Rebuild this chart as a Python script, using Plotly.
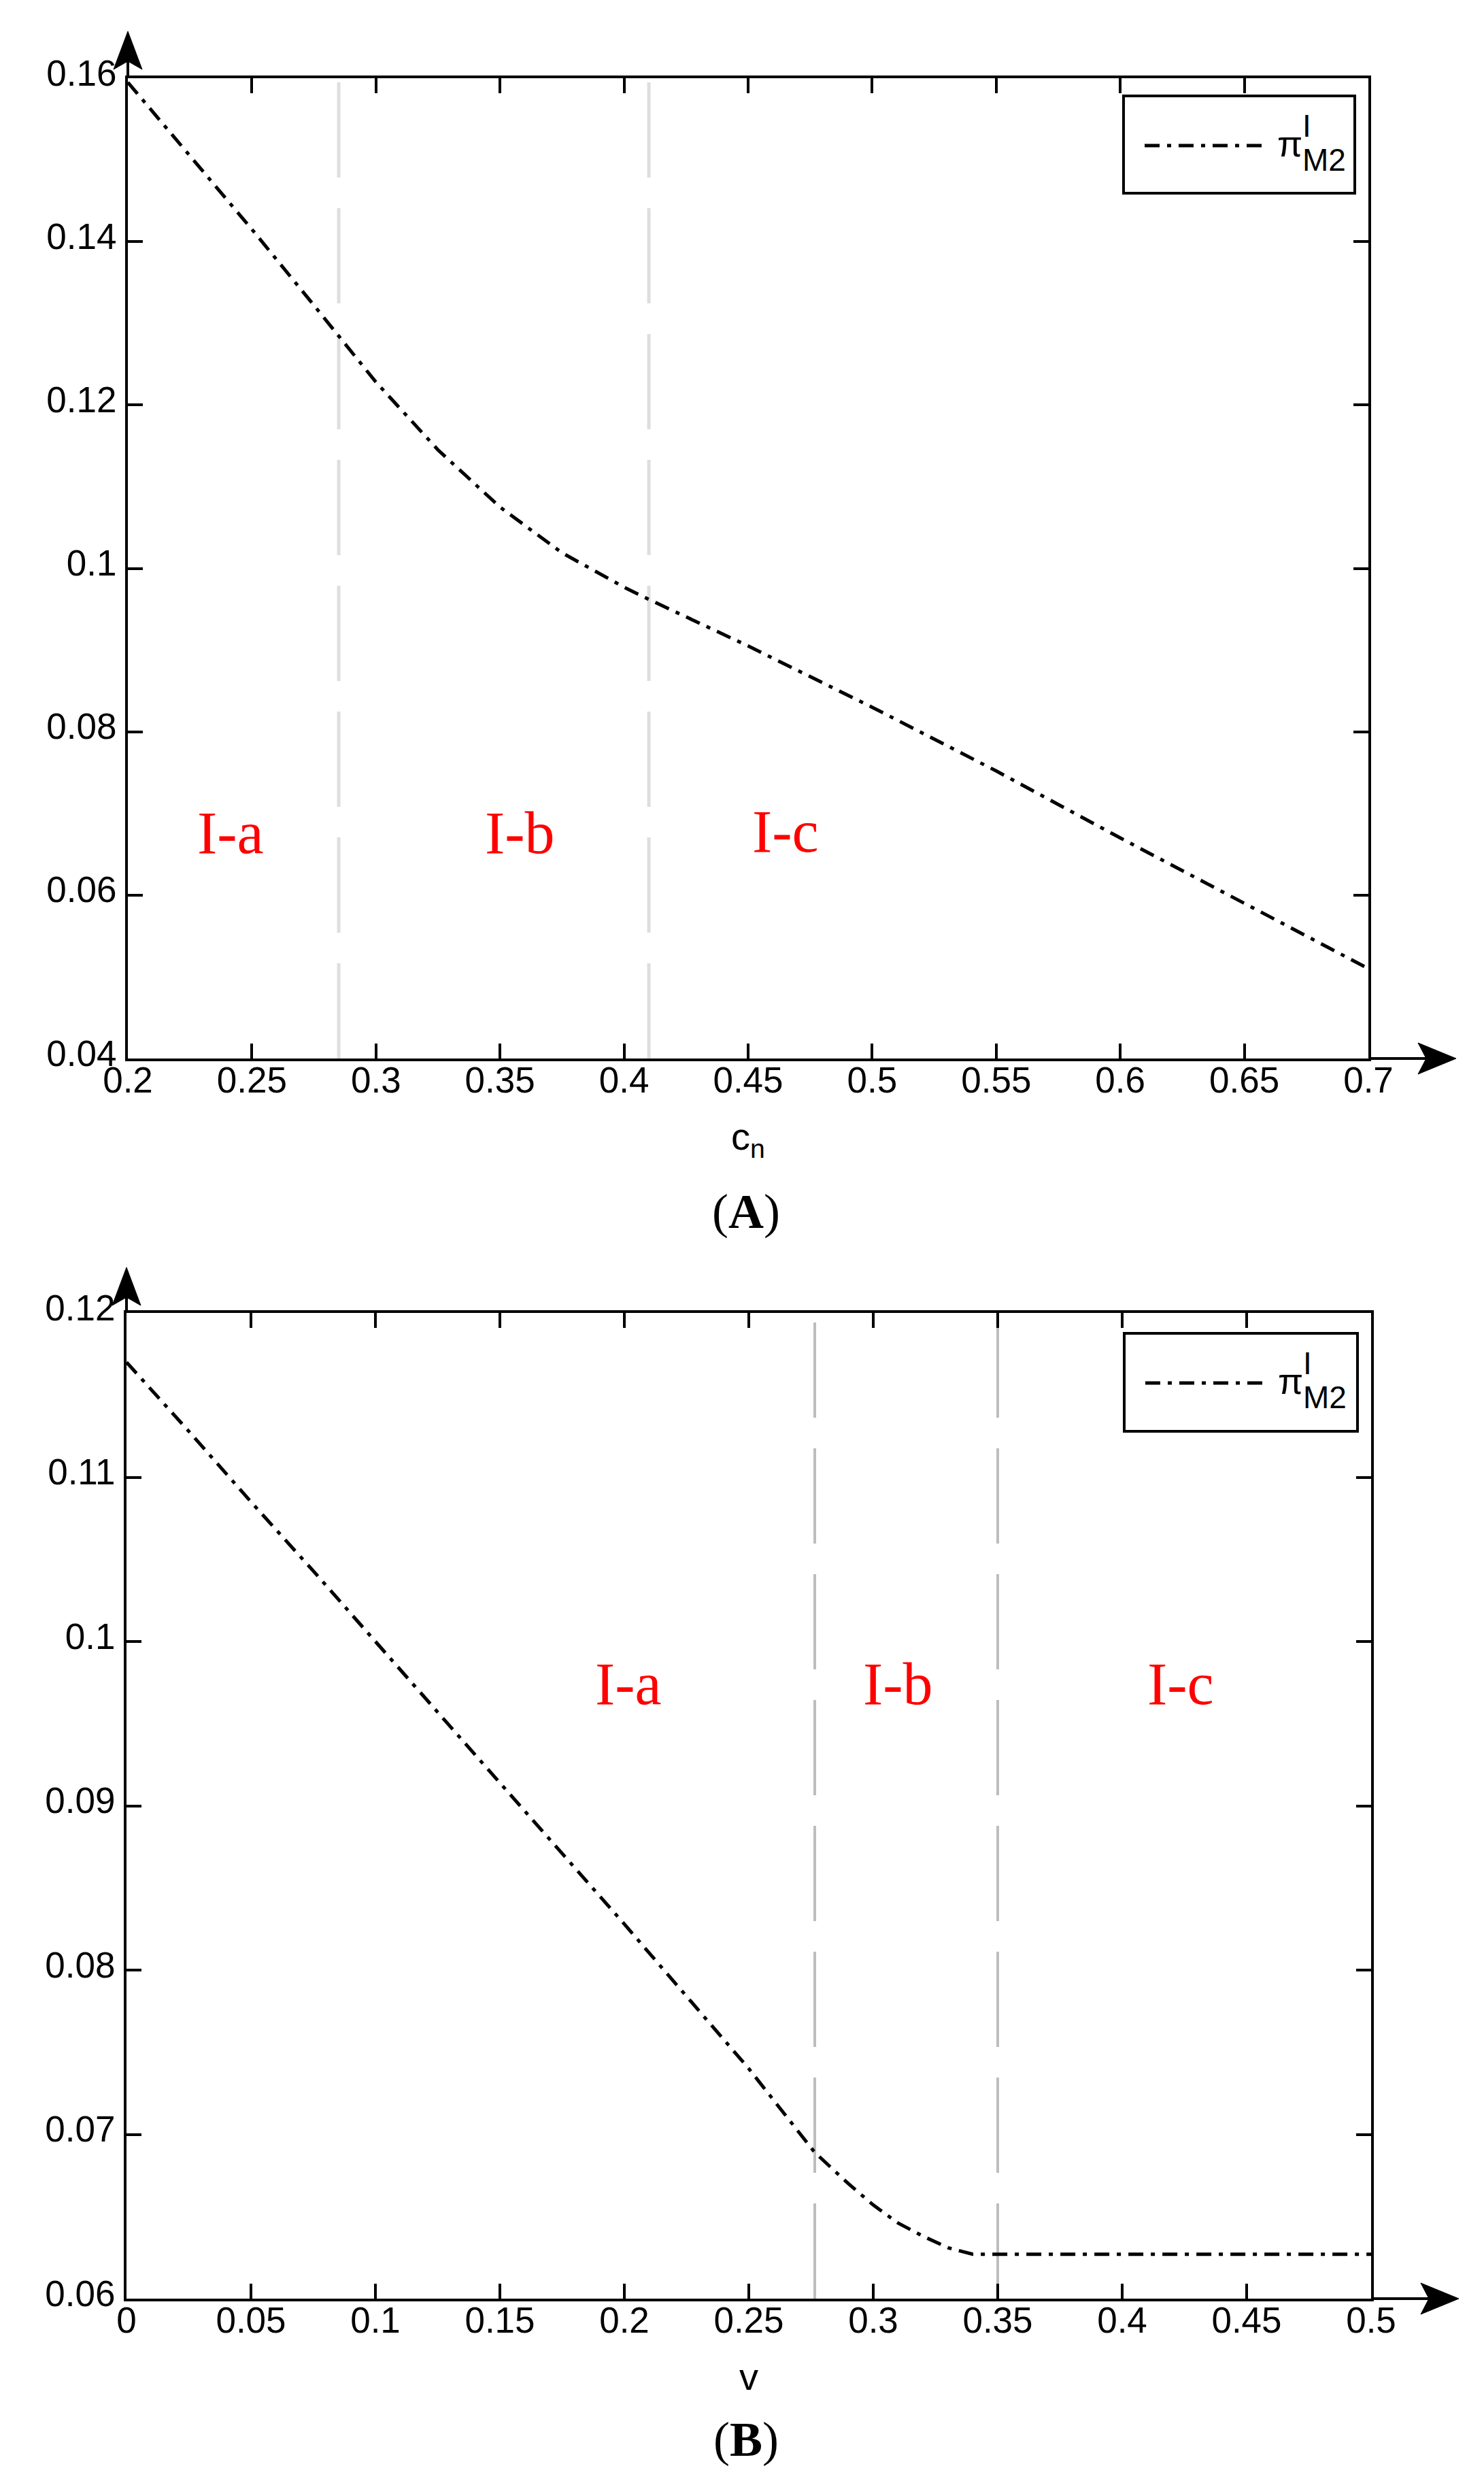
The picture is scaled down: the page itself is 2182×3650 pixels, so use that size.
import plotly.graph_objects as go

W, H = 2182, 3650

# ---------------- data ----------------
# Panel A : profit pi^I_M2 versus c_n
a_x = [0.2, 0.225, 0.25, 0.275, 0.285, 0.3, 0.325, 0.35, 0.375, 0.4, 0.41,
       0.45, 0.5, 0.55, 0.6, 0.65, 0.7]
a_y = [0.1595, 0.1505, 0.1415, 0.1322, 0.1285, 0.1228, 0.1145, 0.1075, 0.1019,
       0.0977, 0.0962, 0.0905, 0.0830, 0.0752, 0.0670, 0.0590, 0.0510]
a_bounds = [0.285, 0.41]
a_regions = ["I-a", "I-b", "I-c"]
a_region_x = [0.2414, 0.358, 0.465]
a_region_y = [0.0676, 0.0676, 0.0678]
a_xticks = [0.2, 0.25, 0.3, 0.35, 0.4, 0.45, 0.5, 0.55, 0.6, 0.65, 0.7]
a_xticktext = ["0.2", "0.25", "0.3", "0.35", "0.4", "0.45", "0.5", "0.55", "0.6", "0.65", "0.7"]
a_yticks = [0.04, 0.06, 0.08, 0.1, 0.12, 0.14, 0.16]
a_yticktext = ["0.04", "0.06", "0.08", "0.1", "0.12", "0.14", "0.16"]

# Panel B : profit pi^I_M2 versus v
b_x = [0, 0.025, 0.05, 0.075, 0.1, 0.125, 0.15, 0.175, 0.2, 0.225, 0.25, 0.2765,
       0.29, 0.3, 0.31, 0.32, 0.33, 0.34, 0.35, 0.4, 0.45, 0.5]
b_y = [0.1170, 0.1128, 0.1085, 0.1043, 0.1000, 0.0957, 0.0914, 0.0871, 0.0828,
       0.0784, 0.0740, 0.0689, 0.0670, 0.0657, 0.0646, 0.0638, 0.0631, 0.0627,
       0.0627, 0.0627, 0.0627, 0.0627]
b_bounds = [0.2765, 0.35]
b_regions = ["I-a", "I-b", "I-c"]
b_region_x = [0.2016, 0.310, 0.4234]
b_region_y = [0.0974, 0.0974, 0.0974]
b_xticks = [0, 0.05, 0.1, 0.15, 0.2, 0.25, 0.3, 0.35, 0.4, 0.45, 0.5]
b_xticktext = ["0", "0.05", "0.1", "0.15", "0.2", "0.25", "0.3", "0.35", "0.4", "0.45", "0.5"]
b_yticks = [0.06, 0.07, 0.08, 0.09, 0.1, 0.11, 0.12]
b_yticktext = ["0.06", "0.07", "0.08", "0.09", "0.1", "0.11", "0.12"]

series_name = "π<sup>I</sup><sub>M2</sub>"

# ---------------- layout helpers (pixels -> paper) ----------------
def px(x):
    return x / W

def py(y):
    return 1 - y / H

SANS = "Liberation Sans, Arial, sans-serif"
SERIF = "Liberation Serif, Times New Roman, serif"
DASHDOT = "22px,11px,6px,11px"

panels = {
    "A": dict(left=180, right=2004, top=107, bottom=1548, leg=(1644, 1984, 133, 276),
              xt="c<sub>n</sub>", xr=[0.2, 0.7], yr=[0.04, 0.16], lab_y=1798,
              up_tip=38, right_tip=2133, bcol="#dedede", bw=5),
    "B": dict(left=178, right=2008, top=1922, bottom=3371, leg=(1645, 1988, 1952, 2096),
              xt="v", xr=[0, 0.5], yr=[0.06, 0.12], lab_y=3603,
              up_tip=1855, right_tip=2137, bcol="#bdbdbd", bw=4),
}

fig = go.Figure()

fig.add_trace(go.Scatter(x=a_x, y=a_y, mode="lines", name=series_name,
                         line=dict(color="black", width=5, dash=DASHDOT),
                         xaxis="x", yaxis="y", showlegend=False))
fig.add_trace(go.Scatter(x=b_x, y=b_y, mode="lines", name=series_name,
                         line=dict(color="black", width=5, dash=DASHDOT),
                         xaxis="x2", yaxis="y2", showlegend=False))

axis_common = dict(showgrid=False, zeroline=False, showline=True, linewidth=4,
                   linecolor="black", mirror="ticks", ticks="inside", ticklen=22,
                   tickwidth=4, tickcolor="black", automargin=False,
                   tickfont=dict(family=SANS, size=53, color="black"))

layout = dict(width=W, height=H, paper_bgcolor="white", plot_bgcolor="white",
              margin=dict(l=0, r=0, t=0, b=0, pad=0, autoexpand=False), showlegend=False)

for key, xa, ya, xt, xtt, yt, ytt in [
        ("A", "xaxis", "yaxis", a_xticks, a_xticktext, a_yticks, a_yticktext),
        ("B", "xaxis2", "yaxis2", b_xticks, b_xticktext, b_yticks, b_yticktext)]:
    p = panels[key]
    xanchor_name = "y" if key == "A" else "y2"
    yanchor_name = "x" if key == "A" else "x2"
    layout[xa] = dict(axis_common, domain=[px(p["left"]), px(p["right"])],
                      range=p["xr"], tickvals=xt, ticktext=xtt, anchor=xanchor_name,
                      ticklabelstandoff=-18,
                      title=dict(text=p["xt"], font=dict(family=SANS, size=56, color="black"),
                                 standoff=36))
    layout[ya] = dict(axis_common, domain=[py(p["bottom"]), py(p["top"])],
                      range=p["yr"], tickvals=yt, ticktext=ytt, anchor=yanchor_name,
                      ticklabelstandoff=2, ticklabelshift=-8)

fig.update_layout(**layout)

shapes = []
annotations = []

# vertical region boundaries
for key, bounds, xref in [("A", a_bounds, "x"), ("B", b_bounds, "x2")]:
    p = panels[key]
    yref = "y domain" if key == "A" else "y2 domain"
    for b in bounds:
        shapes.append(dict(type="line", xref=xref, yref=yref, x0=b, x1=b, y0=0, y1=1,
                           line=dict(color=p["bcol"], width=p["bw"], dash="140px,45px"),
                           layer="below"))

# region labels
for regions, rx, ry, xref, yref in [(a_regions, a_region_x, a_region_y, "x", "y"),
                                    (b_regions, b_region_x, b_region_y, "x2", "y2")]:
    for t, x, y in zip(regions, rx, ry):
        annotations.append(dict(text=t, x=x, y=y, xref=xref, yref=yref, showarrow=False,
                                font=dict(family=SERIF, size=88, color="#ff0000"),
                                xanchor="center", yanchor="middle"))


def path_px(points):
    """Closed SVG path in paper coordinates from pixel points."""
    parts = []
    for i, (x, y) in enumerate(points):
        parts.append(("M" if i == 0 else "L") + "%.6f,%.6f" % (px(x), py(y)))
    return " ".join(parts) + " Z"


for key in ["A", "B"]:
    p = panels[key]
    L, R, T, B = p["left"], p["right"], p["top"], p["bottom"]
    ut, rt = p["up_tip"], p["right_tip"]
    alen, ahw, notch = 56, 21, 12
    # axis extensions
    shapes.append(dict(type="line", xref="paper", yref="paper", x0=px(L), x1=px(L),
                       y0=py(T), y1=py(ut + alen - notch), line=dict(color="black", width=4)))
    shapes.append(dict(type="line", xref="paper", yref="paper", x0=px(R), x1=px(rt - alen + notch),
                       y0=py(B), y1=py(B), line=dict(color="black", width=4)))
    # arrow heads
    shapes.append(dict(type="path", xref="paper", yref="paper",
                       path=path_px([(L, ut), (L + ahw, ut + alen), (L, ut + alen - notch),
                                     (L - ahw, ut + alen)]),
                       fillcolor="black", line=dict(color="black", width=1)))
    shapes.append(dict(type="path", xref="paper", yref="paper",
                       path=path_px([(rt, B), (rt - alen, B - ahw - 2), (rt - alen + notch, B),
                                     (rt - alen, B + ahw + 2)]),
                       fillcolor="black", line=dict(color="black", width=1)))
    # legend box
    l, r, t, b = p["leg"]
    shapes.append(dict(type="rect", xref="paper", yref="paper", x0=px(l), x1=px(r),
                       y0=py(b), y1=py(t), line=dict(color="black", width=4),
                       fillcolor="white", layer="above"))
    ly = t + 73
    shapes.append(dict(type="line", xref="paper", yref="paper", x0=px(l + 31), x1=px(l + 203),
                       y0=py(ly), y1=py(ly), line=dict(color="black", width=5, dash=DASHDOT),
                       layer="above"))
    annotations.append(dict(text="π", x=px(l + 224), y=py(ly - 3), xref="paper", yref="paper",
                            showarrow=False, xanchor="left", yanchor="middle",
                            font=dict(family=SANS, size=54, color="black")))
    annotations.append(dict(text="I", x=px(l + 261), y=py(ly - 29), xref="paper", yref="paper",
                            showarrow=False, xanchor="left", yanchor="middle",
                            font=dict(family=SANS, size=46, color="black")))
    annotations.append(dict(text="M2", x=px(l + 261), y=py(ly + 21), xref="paper", yref="paper",
                            showarrow=False, xanchor="left", yanchor="middle",
                            font=dict(family=SANS, size=46, color="black")))
    # panel label
    annotations.append(dict(text="(<b>%s</b>)" % key, x=px(1089), y=py(p["lab_y"] + 17),
                            xref="paper", yref="paper", showarrow=False,
                            xanchor="center", yanchor="bottom",
                            font=dict(family=SERIF, size=72, color="black")))

fig.update_layout(shapes=shapes, annotations=annotations)
fig.write_html("out.html")
